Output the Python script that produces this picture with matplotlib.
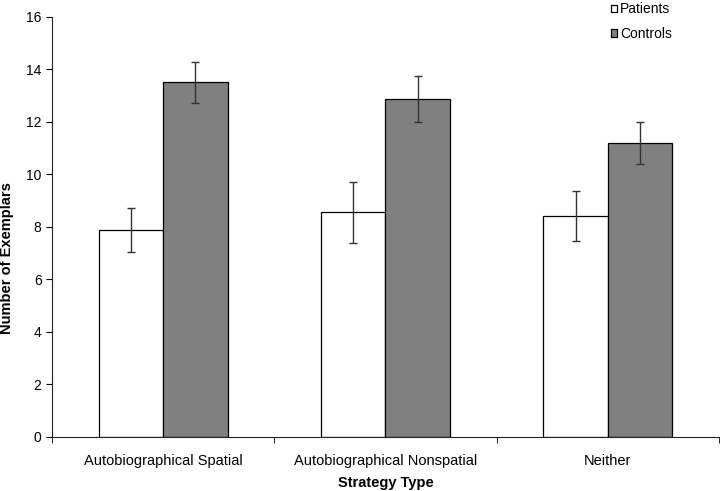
import matplotlib.pyplot as plt
import numpy as np
from matplotlib.ticker import FixedLocator

plt.rcParams['font.family'] = ['Liberation Sans', 'DejaVu Sans']

# data
categories = ['Autobiographical Spatial', 'Autobiographical Nonspatial', 'Neither']
patients = [7.89, 8.56, 8.42]
patients_err = [0.85, 1.17, 0.96]
controls = [13.51, 12.88, 11.21]
controls_err = [0.77, 0.88, 0.80]

x = np.arange(len(categories))
w = 0.29

fig = plt.figure(figsize=(7.2, 4.91), dpi=100)
ax = fig.add_axes([0.0722, 0.110, 0.9264, 0.8554])

ekw = dict(ecolor='#333333', elinewidth=1, capsize=3, capthick=1)
ax.bar(x - w/2, patients, w, yerr=patients_err, color='white', edgecolor='black',
       linewidth=0.9, label='Patients', error_kw=ekw)
ax.bar(x + w/2, controls, w, yerr=controls_err, color='#808080', edgecolor='black',
       linewidth=0.9, label='Controls', error_kw=ekw)

ax.set_xlim(-0.5, 2.5)
ax.set_ylim(0, 16)
ax.set_yticks(range(0, 17, 2))
ax.set_xticks(x)
ax.set_xticklabels(categories, fontsize=10.5)
ax.xaxis.set_minor_locator(FixedLocator([-0.5, 0.5, 1.5, 2.5]))
ax.tick_params(axis='x', which='major', length=0, pad=12)
ax.tick_params(axis='x', which='minor', length=4, direction='out')
ax.tick_params(axis='y', length=4, direction='out', labelsize=10)

ax.spines['top'].set_visible(False)
ax.spines['right'].set_visible(False)
ax.spines['left'].set_color('#222222')
ax.spines['bottom'].set_color('#222222')

ax.set_xlabel('Strategy Type', fontweight='bold', fontsize=10.5, labelpad=6)
ax.set_ylabel('Number of Exemplars', fontweight='bold', fontsize=10.5)
ax.yaxis.set_label_coords(-0.057, 0.426)

ax.legend(loc='upper left', bbox_to_anchor=(0.819, 1.065), frameon=False, fontsize=10,
          handlelength=0.45, handleheight=0.45, handletextpad=0.2, labelspacing=0.78)

plt.savefig('out.png', dpi=100)
